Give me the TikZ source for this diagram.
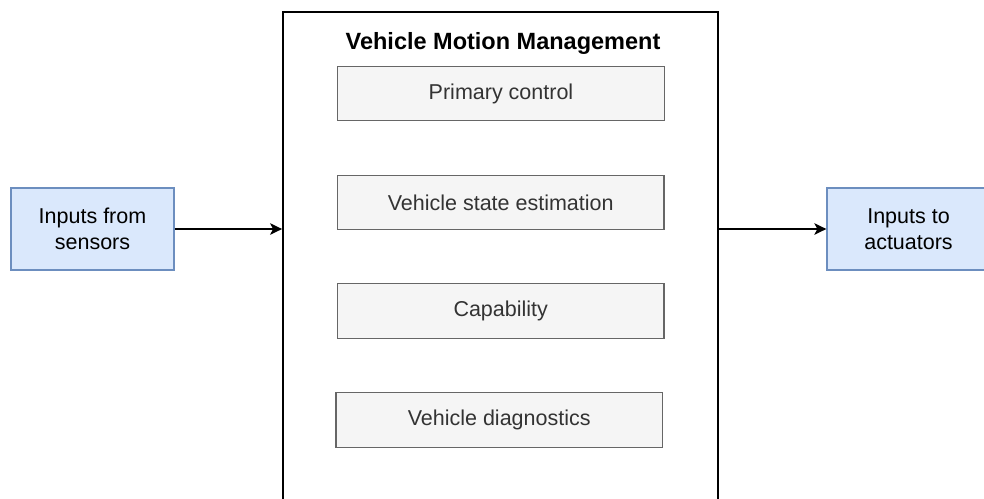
\documentclass[tikz,border=0pt]{standalone}
\usepackage{fontspec}
\setmainfont{Liberation Sans}
\usetikzlibrary{arrows.meta}
\definecolor{bluefill}{HTML}{DAE8FC}
\definecolor{bluedraw}{HTML}{6C8EBF}
\definecolor{greyfill}{HTML}{F5F5F5}
\definecolor{greydraw}{HTML}{666666}
\definecolor{greytext}{HTML}{333333}
\tikzset{
  iobox/.style={draw=bluedraw, fill=bluefill, line width=1.3pt,
    minimum width=163pt, minimum height=82pt, inner sep=0pt,
    align=center, font=\fontsize{21.5}{25.8}\selectfont},
  partbox/.style={draw=greydraw, fill=greyfill, line width=1.3pt,
    minimum width=326.5pt, minimum height=54.5pt, inner sep=0pt,
    text=greytext, font=\fontsize{21.5}{25.8}\selectfont},
  frame/.style={draw=black, line width=1.8pt, minimum width=435pt,
    minimum height=508pt, inner sep=0pt},
  flow/.style={draw=black, line width=1.6pt,
    -{Stealth[length=12pt, width=11.5pt, inset=3pt]}},
}
\begin{document}
\begin{tikzpicture}[x=1pt, y=-1pt]
  \useasboundingbox (0,0) rectangle (984,498);
  \clip (0,0) rectangle (984,498);

  % enclosing module
  \node[frame] (vmm) at (500.5,266) {};
  \node[anchor=base, font=\fontsize{23.5}{28}\selectfont\bfseries]
    (title) at (503,49) {Vehicle Motion Management};

  % functions inside the module
  \node[partbox] (primary)    at (501,93.5)    {Primary control};
  \node[partbox] (estimation) at (500.7,202.5) {Vehicle state estimation};
  \node[partbox] (capability) at (500.7,311)   {Capability};
  \node[partbox] (diagnose)   at (499.2,420)   {Vehicle diagnostics};

  % external interfaces
  \node[iobox] (sensors)   at (92.5,229)  {Inputs from\\sensors};
  \node[iobox] (actuators) at (908.5,229) {Inputs to\\actuators};

  % signal flow
  \draw[flow] (sensors.east) -- (sensors.east -| vmm.west);
  \draw[flow] (actuators.west -| vmm.east) -- (actuators.west);
\end{tikzpicture}
\end{document}
